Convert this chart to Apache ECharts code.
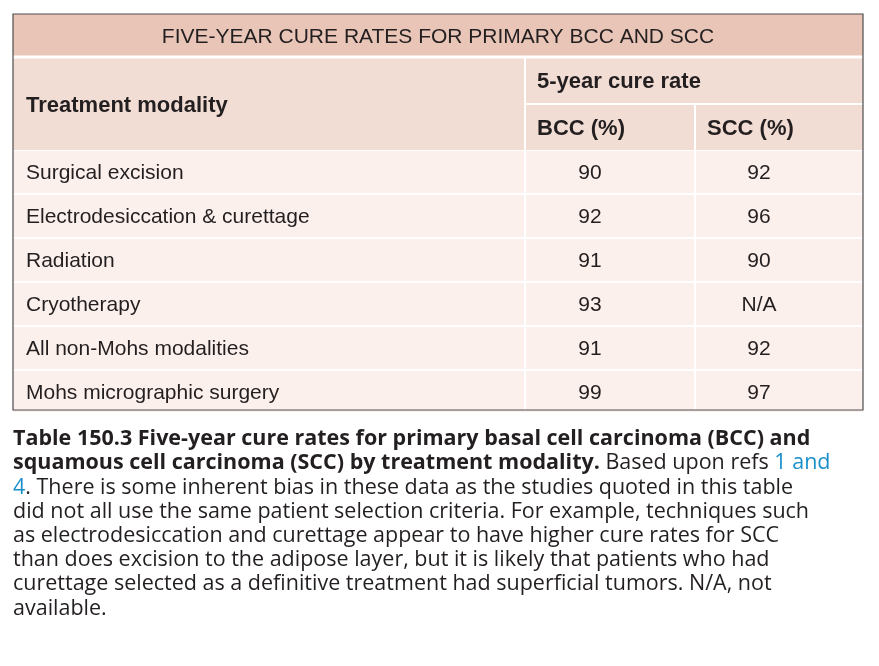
<!DOCTYPE html>
<html><head><meta charset="utf-8">
<script src="https://cdn.jsdelivr.net/npm/echarts@6/dist/echarts.min.js"></script>
<style>html,body{margin:0;background:#fff}#c{width:879px;height:666px}</style>
</head><body><div id="c"></div>
<script>
var title = 'FIVE-YEAR CURE RATES FOR PRIMARY BCC AND SCC';
var headers = ['Treatment modality', '5-year cure rate', 'BCC (%)', 'SCC (%)'];
var modalities = ['Surgical excision', 'Electrodesiccation & curettage', 'Radiation', 'Cryotherapy', 'All non-Mohs modalities', 'Mohs micrographic surgery'];
var bccValues = ['90', '92', '91', '93', '91', '99'];
var sccValues = ['92', '96', '90', 'N/A', '92', '97'];
var captionLines = [
  [['b', 'Table 150.3 Five-year cure rates for primary basal cell carcinoma (BCC) and']],
  [['b', 'squamous cell carcinoma (SCC) by treatment modality.'], ['n', ' Based upon refs '], ['l', '1 and']],
  [['l', '4'], ['n', '. There is some inherent bias in these data as the studies quoted in this table']],
  [['n', 'did not all use the same patient selection criteria. For example, techniques such']],
  [['n', 'as electrodesiccation and curettage appear to have higher cure rates for SCC']],
  [['n', 'than does excision to the adipose layer, but it is likely that patients who had']],
  [['n', 'curettage selected as a definitive treatment had superficial tumors. N/A, not']],
  [['n', 'available.']]
];

var chart = echarts.init(document.getElementById('c'));
var L = 13, R = 863, c1 = 525, c2 = 695, rowH = 44;
var font = '"Liberation Sans", Arial, sans-serif';
var g = [];
function rect(x, y, w, h, fill) { g.push({type: 'rect', shape: {x: x, y: y, width: w, height: h}, style: {fill: fill}}); }
function text(x, y, s, opt) {
  g.push({type: 'text', x: x, y: y, style: Object.assign({text: s, font: '21px ' + font, fill: '#231f20', textVerticalAlign: 'middle'}, opt || {})});
}
// title row
rect(L, 14, R - L, 43, '#e8c5b7');
text((L + R) / 2, 37, title, {textAlign: 'center', font: '21px "Liberation Sans Narrow", ' + font});
// header
rect(L, 57, R - L, 93, '#f2ddd4');
g.push({type: 'line', shape: {x1: L, y1: 57, x2: R, y2: 57}, style: {stroke: '#fff', lineWidth: 3}});
g.push({type: 'line', shape: {x1: c1, y1: 57, x2: c1, y2: 410}, style: {stroke: '#fff', lineWidth: 2}});
g.push({type: 'line', shape: {x1: c1, y1: 104, x2: R, y2: 104}, style: {stroke: '#fff', lineWidth: 2}});
g.push({type: 'line', shape: {x1: c2, y1: 104, x2: c2, y2: 410}, style: {stroke: '#fff', lineWidth: 2}});
text(26, 106, headers[0], {font: 'bold 22px ' + font});
text(537, 82, headers[1], {font: 'bold 22px ' + font});
text(537, 129, headers[2], {font: 'bold 22px ' + font});
text(707, 129, headers[3], {font: 'bold 22px ' + font});
// body
var y0 = 151;
modalities.forEach(function (m, i) {
  var y = y0 + i * rowH;
  g.push({type: 'rect', z: -1, shape: {x: L, y: y, width: R - L, height: rowH - (i === 5 ? 3 : 2)}, style: {fill: '#fcf0ec'}});
  text(26, y + 22, m);
  text(590, y + 22, bccValues[i], {textAlign: 'center'});
  text(759, y + 22, sccValues[i], {textAlign: 'center'});
});
g.push({type: 'rect', z: 10, shape: {x: L, y: 14, width: R - L, height: 396}, style: {fill: 'none', stroke: '#4d4d4f', lineWidth: 1.2}});
// caption
var cf = '"Open Sans", "Noto Sans", sans-serif';
captionLines.forEach(function (line, i) {
  var s = line.map(function (p) { return '{' + p[0] + '|' + p[1] + '}'; }).join('');
  g.push({type: 'text', x: 13, y: 439 + i * 24.2, style: {text: s, textVerticalAlign: 'middle', rich: {
    b: {font: 'bold 21.5px ' + cf, fill: '#231f20'},
    n: {font: '21.5px ' + cf, fill: '#231f20'},
    l: {font: '21.5px ' + cf, fill: '#1a8fc9'}
  }}});
});
chart.setOption({backgroundColor: '#fff', animation: false, graphic: {elements: g}});
</script></body></html>
